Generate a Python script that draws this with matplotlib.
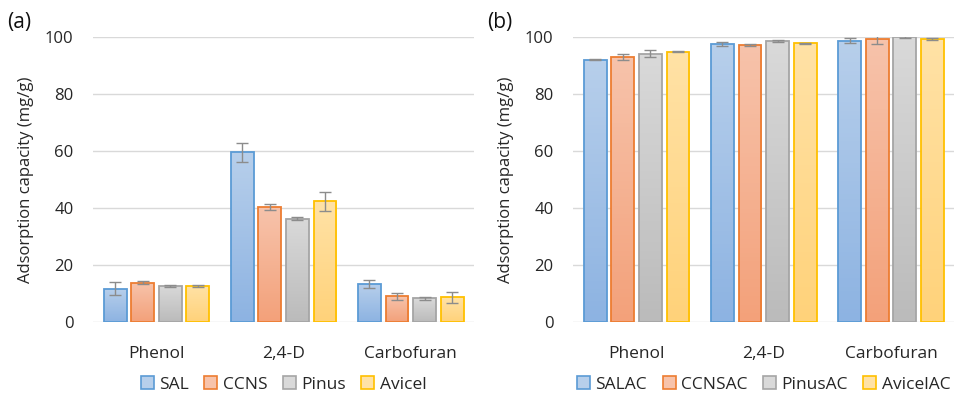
import numpy as np
import matplotlib
matplotlib.use("Agg")
import matplotlib.pyplot as plt
from matplotlib.colors import LinearSegmentedColormap
from matplotlib.patches import Patch

plt.rcParams["font.family"] = ["Open Sans", "DejaVu Sans"]

categories = ["Phenol", "2,4-D", "Carbofuran"]

raw_names = ["SAL", "CCNS", "Pinus", "Avicel"]
raw_vals = [
    [11.7, 59.5, 13.4],
    [13.8, 40.3, 9.0],
    [12.7, 36.3, 8.3],
    [12.7, 42.3, 8.6],
]
raw_err = [
    [2.3, 3.2, 1.4],
    [0.5, 1.0, 1.2],
    [0.4, 0.5, 0.5],
    [0.3, 3.3, 1.9],
]

ac_names = ["SALAC", "CCNSAC", "PinusAC", "AvicelAC"]
ac_vals = [
    [92.1, 97.4, 98.7],
    [93.0, 97.3, 99.4],
    [94.1, 98.6, 100.0],
    [94.9, 97.8, 99.4],
]
ac_err = [
    [0.2, 0.7, 0.8],
    [1.0, 0.4, 2.0],
    [1.2, 0.2, 0.5],
    [0.3, 0.2, 0.3],
]

edge_colors = ["#5B9BD5", "#ED7D31", "#A5A5A5", "#FFC000"]
top_colors = ["#B7CFEB", "#F7C3AB", "#D9D9D9", "#FFE2A6"]
bottom_colors = ["#8DB3E2", "#F3A17A", "#BBBBBB", "#FFD27A"]
text_color = "#262626"


def draw_panel(ax, names, vals, errs, tag):
    x = np.arange(len(categories))
    step = 0.217
    width = 0.18
    for i, name in enumerate(names):
        pos = x + (i - 1.5) * step
        bars = ax.bar(pos, vals[i], width, facecolor="none",
                      edgecolor=edge_colors[i], linewidth=1.3, zorder=3)
        cmap = LinearSegmentedColormap.from_list(
            name, [bottom_colors[i], top_colors[i]])
        grad = np.linspace(0, 1, 64).reshape(-1, 1)
        for b in bars:
            bx, by = b.get_x(), b.get_y()
            im = ax.imshow(grad, cmap=cmap, origin="lower", aspect="auto",
                           extent=(bx, bx + b.get_width(), by, by + b.get_height()),
                           zorder=2)
            im.set_clip_path(b)
        ax.errorbar(pos, vals[i], yerr=errs[i], fmt="none", ecolor="#8C8C8C",
                    elinewidth=1.0, capsize=4, capthick=1.0, zorder=4)

    ax.set_xlim(-0.5, len(categories) - 0.5)
    ax.set_ylim(0, 100)
    ax.set_yticks(range(0, 101, 20))
    ax.set_xticks(x)
    ax.set_xticklabels(categories, fontsize=12.5, color=text_color)
    ax.tick_params(axis="y", labelsize=12, colors=text_color, length=0, pad=14)
    ax.tick_params(axis="x", length=0, pad=17)
    ax.grid(axis="y", color="#D9D9D9", linewidth=1.0, zorder=0)
    ax.set_axisbelow(True)
    for s in ax.spines.values():
        s.set_visible(False)
    ax.set_ylabel("Adsorption capacity (mg/g)", fontsize=12, color=text_color,
                  labelpad=8)
    ax.text(-0.225, 1.05, tag, transform=ax.transAxes, fontsize=15,
            ha="left", va="center", color="#111111")

    handles = [Patch(facecolor=(top_colors[i]), edgecolor=edge_colors[i],
                     linewidth=1.2, label=n) for i, n in enumerate(names)]
    ax.legend(handles=handles, loc="center", bbox_to_anchor=(0.5, -0.22),
              ncol=4, frameon=False, fontsize=12.5, handlelength=0.75,
              handleheight=0.75, handletextpad=0.3, columnspacing=0.9,
              labelcolor=text_color)


fig = plt.figure(figsize=(9.68, 3.98), dpi=100)
ax1 = fig.add_axes([0.096, 0.191, 0.394, 0.716])
ax2 = fig.add_axes([0.592, 0.191, 0.394, 0.716])

draw_panel(ax1, raw_names, raw_vals, raw_err, "(a)")
draw_panel(ax2, ac_names, ac_vals, ac_err, "(b)")

fig.savefig("out.png", dpi=100)
